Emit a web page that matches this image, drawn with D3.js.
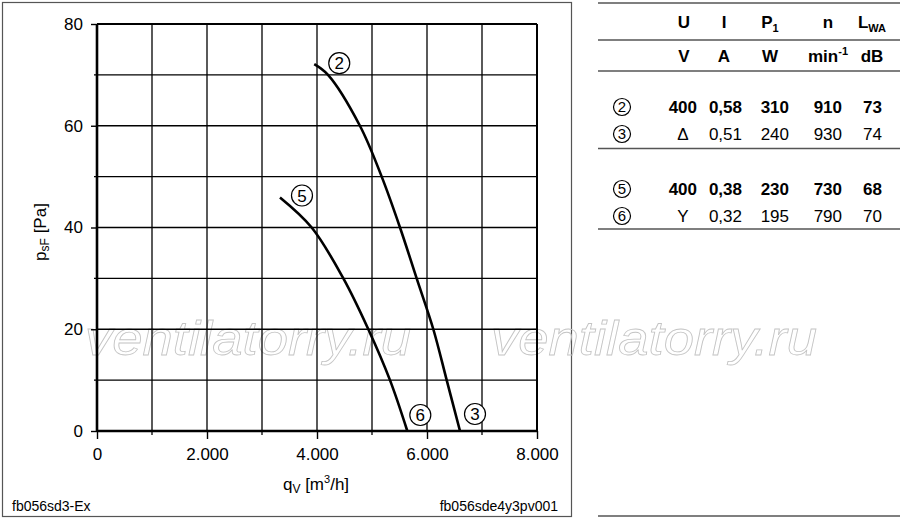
<!DOCTYPE html>
<html>
<head>
<meta charset="utf-8">
<script src="https://cdn.jsdelivr.net/npm/d3@7"></script>
<style>
  body { margin: 0; background: #fff; }
  svg { display: block; font-family: "Liberation Sans", Arial, sans-serif; }
</style>
</head>
<body>
<svg id="chart" width="900" height="520"></svg>
<script>
// ---- data ----
const flowTicks = [0, 2000, 4000, 6000, 8000];
const pressureTicks = [0, 20, 40, 60, 80];
const flowGrid = [1000, 2000, 3000, 4000, 5000, 6000, 7000];
const pressureGrid = [10, 20, 30, 40, 50, 60, 70];

// curve 2 -> 3 (delta connection)
const curveAFlow = [3950, 4200, 4780, 5176, 5509, 5812, 6115, 6358, 6600];
const curveAPressure = [72.1, 70, 60, 50, 40, 30, 20, 10, 0];
// curve 5 -> 6 (star connection)
const curveBFlow = [3327, 3903, 4479, 4933, 5327, 5642];
const curveBPressure = [45.9, 40, 30, 20, 10, 0];

// table
const tableHead = [["U", ""], ["I", ""], ["P", "1"], ["n", ""], ["L", "WA"]];
const tableUnits = ["V", "A", "W", "min", "dB"];
const rowLabels = ["2", "3", "5", "6"];
const rowU = ["400", "\u0394", "400", "Y"];
const rowI = ["0,58", "0,51", "0,38", "0,32"];
const rowP = ["310", "240", "230", "195"];
const rowN = ["910", "930", "730", "790"];
const rowL = ["73", "74", "68", "70"];
const rowBold = [true, false, true, false];

var svg = d3.select('#chart');
var padding = { t: 24, l: 97 };
var plotW = 440, plotH = 407;

var x = d3.scaleLinear().domain([0, 8000]).range([padding.l, padding.l + plotW]);
var y = d3.scaleLinear().domain([0, 80]).range([padding.t + plotH, padding.t]);

var de = d3.formatLocale({ decimal: ",", thousands: ".", grouping: [3], currency: ["", ""] });
var fmt = de.format(",");

// outer frame of the chart
svg.append('rect')
  .attr('x', 2.5).attr('y', 2.5).attr('width', 569).attr('height', 514)
  .attr('fill', 'none').attr('stroke', '#555').attr('stroke-width', 1.2);

// watermark (drawn under the grid)
[85, 491].forEach(function (wx) {
  svg.append('text')
    .attr('x', wx).attr('y', 355)
    .attr('font-size', 48)
    .attr('font-style', 'italic')
    .attr('textLength', 326)
    .attr('lengthAdjust', 'spacingAndGlyphs')
    .attr('fill', 'none')
    .attr('stroke', '#c4c4c4')
    .attr('stroke-width', 0.8)
    .text('ventilatorry.ru');
});

var plot = svg.append('g');

// grid
plot.selectAll('.vgrid').data(flowGrid).enter().append('line')
  .attr('x1', d => x(d)).attr('x2', d => x(d))
  .attr('y1', y(0)).attr('y2', y(80))
  .attr('stroke', '#000').attr('stroke-width', 1.3);
plot.selectAll('.hgrid').data(pressureGrid).enter().append('line')
  .attr('x1', x(0)).attr('x2', x(8000))
  .attr('y1', d => y(d)).attr('y2', d => y(d))
  .attr('stroke', '#000').attr('stroke-width', 1.3);

// top and right border
plot.append('line').attr('x1', x(0)).attr('x2', x(8000)).attr('y1', y(80)).attr('y2', y(80))
  .attr('stroke', '#000').attr('stroke-width', 2);
plot.append('line').attr('x1', x(8000)).attr('x2', x(8000)).attr('y1', y(0)).attr('y2', y(80))
  .attr('stroke', '#000').attr('stroke-width', 2);

// minor ticks
plot.selectAll('.mxt').data(flowGrid.filter(d => flowTicks.indexOf(d) < 0)).enter().append('line')
  .attr('x1', d => x(d)).attr('x2', d => x(d))
  .attr('y1', y(0)).attr('y2', y(0) + 4)
  .attr('stroke', '#000').attr('stroke-width', 1.3);
plot.selectAll('.myt').data(pressureGrid.filter(d => pressureTicks.indexOf(d) < 0)).enter().append('line')
  .attr('x1', x(0) - 3).attr('x2', x(0))
  .attr('y1', d => y(d)).attr('y2', d => y(d))
  .attr('stroke', '#000').attr('stroke-width', 1.3);

// axes
var xAxis = d3.axisBottom(x).tickValues(flowTicks).tickSize(8).tickPadding(9).tickFormat(fmt);
var yAxis = d3.axisLeft(y).tickValues(pressureTicks).tickSize(6).tickPadding(8);

var gx = svg.append('g').attr('transform', `translate(0, ${y(0)})`).call(xAxis);
var gy = svg.append('g').attr('transform', `translate(${x(0)}, 0)`).call(yAxis);
[gx, gy].forEach(function (g) {
  g.select('.domain').remove();
  g.selectAll('line').attr('stroke', '#000').attr('stroke-width', 1.4);
  g.selectAll('text').attr('font-size', 17).attr('fill', '#000')
    .attr('font-family', '"Liberation Sans", Arial, sans-serif');
});

// thick axis lines
svg.append('line').attr('x1', x(0)).attr('x2', x(8000)).attr('y1', y(0)).attr('y2', y(0))
  .attr('stroke', '#000').attr('stroke-width', 2.6);
svg.append('line').attr('x1', x(0)).attr('x2', x(0)).attr('y1', y(0)).attr('y2', y(80))
  .attr('stroke', '#000').attr('stroke-width', 2.6);

// axis titles
var xt = svg.append('text').attr('x', 316).attr('y', 490).attr('text-anchor', 'middle').attr('font-size', 17);
xt.append('tspan').text('q');
xt.append('tspan').attr('font-size', 12).attr('dy', 3).text('V');
xt.append('tspan').attr('dy', -3).text(' [m');
xt.append('tspan').attr('font-size', 11).attr('dy', -7).text('3');
xt.append('tspan').attr('dy', 7).text('/h]');

var yt = svg.append('text').attr('transform', 'translate(46, 232) rotate(-90)')
  .attr('text-anchor', 'middle').attr('font-size', 17);
yt.append('tspan').text('p');
yt.append('tspan').attr('font-size', 12).attr('dy', 3).text('sF');
yt.append('tspan').attr('dy', -3).text(' [Pa]');

// curves
var line = d3.line().x(d => x(d[0])).y(d => y(d[1])).curve(d3.curveCatmullRom.alpha(0.5));
function drawCurve(flow, pressure) {
  var pts = flow.map((f, i) => [f, pressure[i]]);
  svg.append('path').datum(pts)
    .attr('d', line)
    .attr('fill', 'none').attr('stroke', '#000').attr('stroke-width', 2.6);
  return pts;
}
var ptsA = drawCurve(curveAFlow, curveAPressure);
var ptsB = drawCurve(curveBFlow, curveBPressure);

function circled(cx, cy, r, label, fs) {
  var g = svg.append('g');
  g.append('circle').attr('cx', cx).attr('cy', cy).attr('r', r)
    .attr('fill', '#fff').attr('stroke', '#000').attr('stroke-width', 1.2);
  g.append('text').attr('x', cx).attr('y', cy).attr('dy', '0.36em')
    .attr('text-anchor', 'middle').attr('font-size', fs).text(label);
}
var a0 = ptsA[0], a1 = ptsA[ptsA.length - 1];
var b0 = ptsB[0], b1 = ptsB[ptsB.length - 1];
circled(x(a0[0]) + 25, y(a0[1]) - 1, 10.5, '2', 17);
circled(x(b0[0]) + 22, y(b0[1]) - 2, 10.5, '5', 17);
circled(x(a1[0]) + 15, y(a1[1]) - 17, 10.5, '3', 17);
circled(x(b1[0]) + 13, y(b1[1]) - 16, 10.5, '6', 17);

// footer codes
svg.append('text').attr('x', 12).attr('y', 511).attr('font-size', 14).text('fb056sd3-Ex');
svg.append('text').attr('x', 558).attr('y', 511).attr('text-anchor', 'end').attr('font-size', 14).text('fb056sde4y3pv001');

// ---- table on the right ----
var tbl = svg.append('g').attr('font-size', 17);
[3, 40, 71, 148.5, 229, 516].forEach(function (ly) {
  tbl.append('line').attr('x1', 598).attr('x2', 900).attr('y1', ly).attr('y2', ly)
    .attr('stroke', '#555').attr('stroke-width', 1.4);
});

var headX = [684, 724, 770, 828, 872];
tableHead.forEach(function (h, i) {
  var t = tbl.append('text').attr('x', headX[i]).attr('y', 28)
    .attr('text-anchor', 'middle').attr('font-weight', 'bold');
  t.append('tspan').text(h[0]);
  if (h[1]) t.append('tspan').attr('font-size', 11).attr('dy', 4).text(h[1]);
});
tableUnits.forEach(function (u, i) {
  var t = tbl.append('text').attr('x', headX[i]).attr('y', 62)
    .attr('text-anchor', 'middle').attr('font-weight', 'bold');
  t.append('tspan').text(u);
  if (u === 'min') t.append('tspan').attr('font-size', 11).attr('dy', -7).text('-1');
});

var rowY = [113, 140, 195, 222];
var rightX = [697, 742, 789, 842, 882];
rowLabels.forEach(function (lab, r) {
  circled(622, rowY[r] - 6, 8.5, lab, 15);
  var cols = [rowU[r], rowI[r], rowP[r], rowN[r], rowL[r]];
  cols.forEach(function (v, c) {
    var sym = (c === 0 && !rowBold[r]);
    tbl.append('text')
      .attr('x', sym ? 683 : rightX[c]).attr('y', rowY[r])
      .attr('text-anchor', sym ? 'middle' : 'end')
      .attr('font-weight', rowBold[r] ? 'bold' : 'normal')
      .text(v);
  });
});
</script>
</body>
</html>
